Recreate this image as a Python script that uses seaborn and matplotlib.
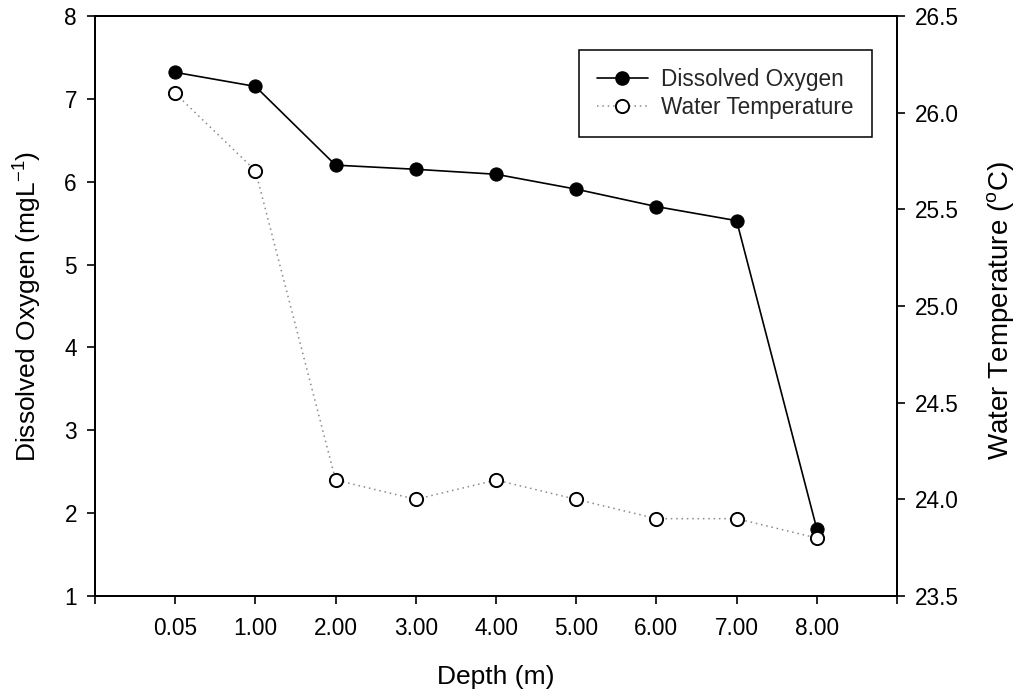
import matplotlib
matplotlib.use("Agg")
import matplotlib.pyplot as plt
import seaborn as sns
import pandas as pd
from matplotlib.lines import Line2D

# Depth profile of a lake station
depth_labels = ["0.05", "1.00", "2.00", "3.00", "4.00", "5.00", "6.00", "7.00", "8.00"]
dissolved_oxygen = [7.32, 7.15, 6.20, 6.15, 6.09, 5.91, 5.70, 5.53, 1.81]
water_temperature = [26.1, 25.7, 24.1, 24.0, 24.1, 24.0, 23.9, 23.9, 23.8]

sns.set_theme(style="white")
plt.rcParams["font.family"] = ["Liberation Sans", "DejaVu Sans"]
plt.rcParams["mathtext.fontset"] = "custom"
plt.rcParams["mathtext.rm"] = "Liberation Sans"
plt.rcParams["mathtext.it"] = "Liberation Sans"
plt.rcParams["mathtext.default"] = "regular"

TICK_FS = 16.3
LABEL_FS = 19

df = pd.DataFrame({
    "pos": range(1, len(depth_labels) + 1),
    "depth": depth_labels,
    "do": dissolved_oxygen,
    "wt": water_temperature,
})

fig = plt.figure(figsize=(10.22, 6.94), dpi=100)
ax = fig.add_axes([95 / 1022, 1 - 596 / 694, 802 / 1022, 580 / 694])
ax2 = ax.twinx()

sns.lineplot(data=df, x="pos", y="do", ax=ax, sort=False, color="black",
             linewidth=1.2, marker="o", markersize=9.5, markerfacecolor="black",
             markeredgecolor="black", zorder=3)
sns.lineplot(data=df, x="pos", y="wt", ax=ax2, sort=False, color="#8a8a8a",
             linewidth=1.1, linestyle=(0, (1, 2.5)), marker="o", markersize=9.5,
             markerfacecolor="white", markeredgecolor="black",
             markeredgewidth=1.4, zorder=3)

ax.set_xlim(0, 10)
ax.set_ylim(1, 8)
ax2.set_ylim(23.5, 26.5)

ax.set_xticks(range(0, 11))
ax.set_xticklabels([""] + depth_labels + [""])
ax.set_yticks(range(1, 9))
ax2.set_yticks([23.5, 24.0, 24.5, 25.0, 25.5, 26.0, 26.5])
ax2.set_yticklabels(["23.5", "24.0", "24.5", "25.0", "25.5", "26.0", "26.5"])

for a in (ax, ax2):
    for s in a.spines.values():
        s.set_color("black")
        s.set_linewidth(1.3)
    a.tick_params(axis="both", which="major", direction="out", length=6,
                  width=1.2, color="black", labelsize=TICK_FS, labelcolor="black", pad=7)
ax.tick_params(axis="x", bottom=True, top=False, pad=9)
ax.tick_params(axis="y", left=True, right=False)
ax2.tick_params(axis="y", right=True, left=False)

ax.set_xlabel("Depth (m)", fontsize=LABEL_FS, color="black")
ax.set_ylabel("Dissolved Oxygen (mgL$^{-1}$)", fontsize=LABEL_FS, color="black")
ax2.set_ylabel("Water Temperature ($^{o}$C)", fontsize=20, color="black")

ax.xaxis.set_label_coords(0.5, (596 - 677) / 580)
ax.xaxis.label.set_va("center")
ax.yaxis.set_label_coords((28 - 95) / 802, 0.5)
ax.yaxis.label.set_va("center")
ax2.yaxis.set_label_coords((1000 - 95) / 802, (596 - 310) / 580)
ax2.yaxis.label.set_va("center")

ax.grid(False)
ax2.grid(False)

handles = [
    Line2D([], [], color="black", linewidth=1.2, marker="o", markersize=9.5,
           markerfacecolor="black", markeredgecolor="black"),
    Line2D([], [], color="#8a8a8a", linewidth=1.1, linestyle=(0, (1, 2.5)), marker="o",
           markersize=9.5, markerfacecolor="white", markeredgecolor="black",
           markeredgewidth=1.4),
]
leg = ax.legend(handles, ["Dissolved Oxygen", "Water Temperature"],
                loc="upper right", bbox_to_anchor=((872 - 95) / 802, (596 - 50) / 580),
                fontsize=TICK_FS, frameon=True, fancybox=False, edgecolor="black",
                framealpha=1, borderpad=0.8, borderaxespad=0, handlelength=2.25,
                handletextpad=0.6, labelspacing=0.2)
leg.get_frame().set_linewidth(1.1)

fig.savefig("out.png", dpi=100)
